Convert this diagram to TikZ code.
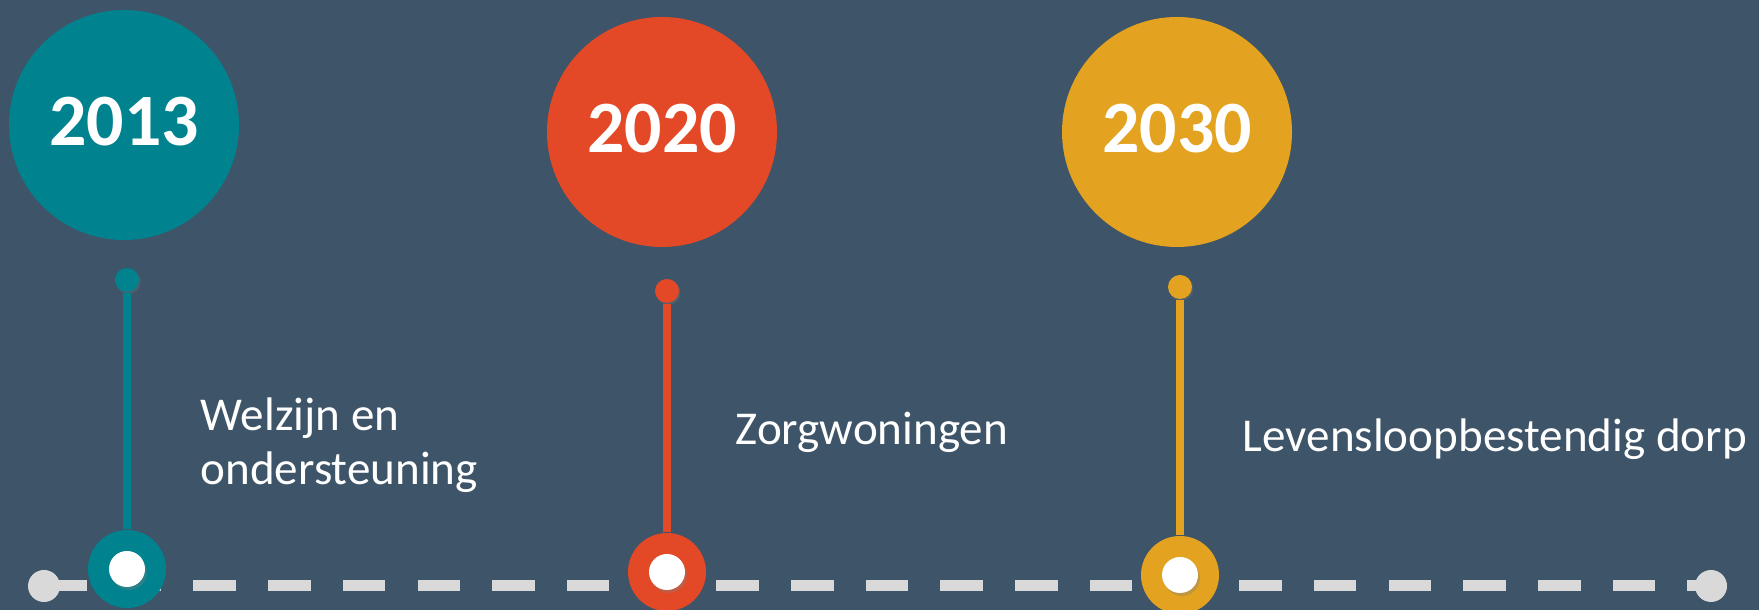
\documentclass[tikz,border=0pt]{standalone}
\usepackage{fontspec}
\setmainfont{Carlito}
\usetikzlibrary{shadows}
\definecolor{slate}{HTML}{3E5468}
\definecolor{teal13}{HTML}{00838F}
\definecolor{red20}{HTML}{E44927}
\definecolor{gold30}{HTML}{E3A21F}
\definecolor{trackgray}{HTML}{D9D9D9}
\begin{document}
\begin{tikzpicture}[
    year/.style={circle, minimum size=2.3cm, inner sep=0pt, text=white, text depth=0.08cm,
      font=\fontsize{21}{25}\selectfont\bfseries},
    pin/.style={circle, minimum size=0.24cm, inner sep=0pt,
      drop shadow={opacity=0.25, shadow xshift=0.015cm, shadow yshift=-0.02cm}},
    ring/.style={circle, minimum size=0.78cm, inner sep=0pt},
    hole/.style={circle, fill=white, minimum size=0.36cm, inner sep=0pt,
      drop shadow={opacity=0.35, shadow xshift=0.02cm, shadow yshift=-0.03cm}},
    enddot/.style={circle, fill=trackgray, minimum size=0.32cm, inner sep=0pt},
    stick/.style={line width=0.08cm},
    trackline/.style={trackgray, line width=0.11cm, dash pattern=on 0.425cm off 0.322cm},
    milestone/.style={text=white, anchor=base west, inner sep=0pt, align=left,
      font=\fontsize{13.4}{15.6}\selectfont}
  ]
    \useasboundingbox (0,0) rectangle (17.59,6.10);
    \fill[slate] (0,0) rectangle (17.59,6.10);
    % years
    \node[year, fill=teal13] (y13) at (1.24,4.85) {2013};
    \node[year, fill=red20] (y20) at (6.62,4.78) {2020};
    \node[year, fill=gold30] (y30) at (11.77,4.78) {2030};
    % time line
    \coordinate (t0) at (0.44,0.24);
    \coordinate (t1) at (17.11,0.24);
    \draw[trackline] (t0) -- (t1);
    \node[enddot] (e0) at (t0) {};
    \node[enddot] (e1) at (t1) {};
    % markers
    \node[ring, fill=teal13] (r13) at (1.27,0.41) {};
    \node[hole] (h13) at (r13) {};
    \node[pin, fill=teal13] (p13) at (1.27,3.30) {};
    \draw[stick, teal13] (p13) -- (r13);
    \node[ring, fill=red20] (r20) at (6.67,0.38) {};
    \node[hole] (h20) at (r20) {};
    \node[pin, fill=red20] (p20) at (6.67,3.19) {};
    \draw[stick, red20] (p20) -- (r20);
    \node[ring, fill=gold30] (r30) at (11.80,0.35) {};
    \node[hole] (h30) at (r30) {};
    \node[pin, fill=gold30] (p30) at (11.80,3.23) {};
    \draw[stick, gold30] (p30) -- (r30);
    % texts
    \node[milestone] (m13) at (2.00,1.25) {Welzijn en\\ondersteuning};
    \node[milestone] (m20) at (7.35,1.65) {Zorgwoningen};
    \node[milestone] (m30) at (12.42,1.58) {Levensloopbestendig dorp};
\end{tikzpicture}
\end{document}
